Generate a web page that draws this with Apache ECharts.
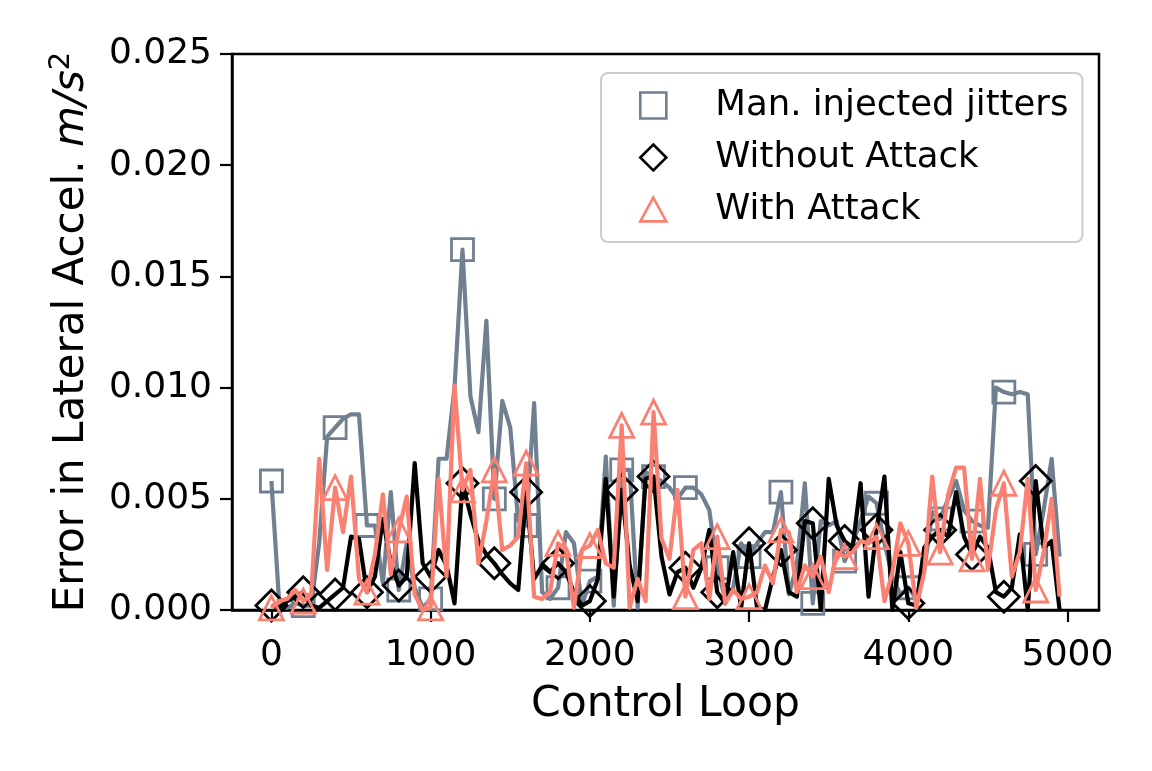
<!DOCTYPE html>
<html>
<head>
<meta charset="utf-8">
<script src="https://cdn.jsdelivr.net/npm/echarts@6/dist/echarts.min.js"></script>
<style>
html,body{margin:0;padding:0;background:#fff;}
#chart{width:1152px;height:771px;}
</style>
</head>
<body>
<div id="chart"></div>
<script>
// ---- data ----
const controlLoop = [0,50,100,150,200,250,300,350,400,450,500,550,600,650,700,750,800,850,900,950,
  1000,1050,1100,1150,1200,1250,1300,1350,1400,1450,1500,1550,1600,1650,1700,1750,1800,1850,1900,1950,
  2000,2050,2100,2150,2200,2250,2300,2350,2400,2450,2500,2550,2600,2650,2700,2750,2800,2850,2900,2950,
  3000,3050,3100,3150,3200,3250,3300,3350,3400,3450,3500,3550,3600,3650,3700,3750,3800,3850,3900,3950,
  4000,4050,4100,4150,4200,4250,4300,4350,4400,4450,4500,4550,4600,4650,4700,4750,4800,4850,4900,4950];

const manInjected = [0.0058,0.0002,0.0001,0.0003,0.0002,0.0002,0.0030,0.0078,0.0082,0.0086,
  0.0088,0.0088,0.0038,0.0038,0.0012,0.0053,0.0009,0.0030,0.0010,0.0001,
  0.0005,0.0068,0.0068,0.0100,0.0162,0.0096,0.0080,0.0130,0.0050,0.0094,
  0.0082,0.0040,0.0038,0.0093,0.0008,0.0005,0.0010,0.0035,0.0030,0.0002,
  0.0013,0.0015,0.0069,0.0002,0.0063,0.0063,0.0001,0.0062,0.0060,0.0058,
  0.0055,0.0050,0.0055,0.0055,0.0052,0.0045,0.0019,0.0005,0.0010,0.0030,
  0.0024,0.0030,0.0035,0.0035,0.0053,0.0007,0.0020,0.0057,0.0003,0.0040,
  0.0038,0.0040,0.0022,0.0030,0.0040,0.0051,0.0048,0.0030,0.0015,0.0007,
  0.0010,0.0005,0.0018,0.0044,0.0041,0.0050,0.0058,0.0045,0.0040,0.0038,
  0.0037,0.0100,0.0098,0.0097,0.0098,0.0097,0.0025,0.0045,0.0068,0.0024];

const withoutAttack = [0.0002,0.0001,0.0004,0.0006,0.0008,0.0002,0.0001,0.0004,0.0007,0.0010,
  0.0033,0.0032,0.0008,0.0015,0.0041,0.0021,0.0011,0.0015,0.0066,0.0021,
  0.0015,0.0027,0.0020,0.0003,0.0057,0.0043,0.0031,0.0025,0.0021,0.0016,
  0.0012,0.0009,0.0053,0.0014,0.0020,0.0017,0.0021,0.0017,0.0008,0.0002,
  0.0004,0.0014,0.0059,0.0006,0.0054,0.0020,0.0004,0.0059,0.0060,0.0024,
  0.0007,0.0017,0.0019,0.0010,0.0019,0.0036,0.0008,0.0003,0.0026,0.0001,
  0.0030,0.0001,0.0000,0.0015,0.0027,0.0008,0.0006,0.0040,0.0039,0.0000,
  0.0059,0.0038,0.0031,0.0028,0.0057,0.0006,0.0036,0.0060,0.0000,0.0026,
  0.0003,0.0002,0.0028,0.0033,0.0036,0.0033,0.0053,0.0033,0.0025,0.0033,
  0.0028,0.0008,0.0006,0.0010,0.0034,0.0000,0.0058,0.0028,0.0031,0.0000];

const withAttack = [0.0001,0.0004,0.0005,0.0009,0.0004,0.0007,0.0068,0.0018,0.0055,0.0035,
  0.0060,0.0014,0.0008,0.0025,0.0052,0.0016,0.0036,0.0051,0.0007,0.0000,
  0.0001,0.0059,0.0015,0.0101,0.0054,0.0063,0.0021,0.0040,0.0063,0.0027,
  0.0029,0.0033,0.0066,0.0006,0.0005,0.0008,0.0030,0.0027,0.0001,0.0027,
  0.0029,0.0036,0.0021,0.0019,0.0083,0.0001,0.0014,0.0004,0.0089,0.0032,
  0.0023,0.0054,0.0006,0.0027,0.0030,0.0005,0.0033,0.0003,0.0009,0.0005,
  0.0006,0.0008,0.0020,0.0012,0.0036,0.0035,0.0008,0.0020,0.0015,0.0024,
  0.0008,0.0026,0.0024,0.0026,0.0031,0.0030,0.0033,0.0004,0.0017,0.0039,
  0.0030,0.0001,0.0017,0.0060,0.0026,0.0052,0.0064,0.0064,0.0023,0.0059,
  0.0018,0.0045,0.0057,0.0015,0.0026,0.0059,0.0009,0.0026,0.0050,0.0006];

const xTicks = [0,1000,2000,3000,4000,5000];
const seriesNames = ['Man. injected jitters','Without Attack','With Attack'];

// ---- chart ----
const colors = ['#708090','#000000','#FA8072'];
const symbols = ['rect','diamond','triangle'];
const symSizes = [22,31,24];
const values = [manInjected, withoutAttack, withAttack];
const FONT = 'DejaVu Sans';

const chart = echarts.init(document.getElementById('chart'), null, {renderer:'canvas'});

const series = values.map((vals, i) => ({
  name: seriesNames[i],
  type: 'line',
  data: controlLoop.map((x, j) => [x, vals[j]]),
  showAllSymbol: true,
  symbol: (v, p) => (p.dataIndex % 4 === 0 ? symbols[i] : 'none'),
  symbolSize: symSizes[i],
  lineStyle: {color: colors[i], width: 4.2, join: 'round'},
  itemStyle: {color: 'rgba(0,0,0,0)', borderColor: colors[i], borderWidth: 2.8},
  z: 2 + i,
  silent: true,
  emphasis: {disabled: true},
  animation: false
}));

const legendIcons = [
  'path://M0,0H24V24H0Z',
  'path://M12,0L24,12L12,24L0,12Z',
  'path://M12,1L24,23H0Z'
];

chart.setOption({
  animation: false,
  backgroundColor: '#ffffff',
  grid: {left: 232, right: 53, top: 54, bottom: 161, show: true,
         borderColor: '#000', borderWidth: 2.5, backgroundColor: 'transparent'},
  legend: {
    orient: 'vertical',
    left: 601, top: 73,
    padding: [12, 14, 12, 38],
    itemWidth: 26, itemHeight: 26, itemGap: 11,
    backgroundColor: 'rgba(255,255,255,0.8)',
    borderColor: '#cccccc', borderWidth: 2, borderRadius: 7,
    selectedMode: false,
    textStyle: {fontFamily: FONT, fontSize: 35.5, color: '#000', lineHeight: 41, padding: [0,0,0,44]},
    data: seriesNames.map((n, i) => ({
      name: n, icon: legendIcons[i],
      itemStyle: {color: 'rgba(0,0,0,0)', borderColor: colors[i], borderWidth: 2.6}
    }))
  },
  xAxis: {
    type: 'value', min: -247.5, max: 5197.5,
    name: 'Control Loop', nameLocation: 'middle', nameGap: 73,
    nameTextStyle: {fontFamily: FONT, fontSize: 42.5, color: '#000'},
    axisLine: {show: true, onZero: false, lineStyle: {color: '#000', width: 2.5}},
    axisTick: {show: true, customValues: xTicks, length: 12, lineStyle: {color: '#000', width: 2.2}},
    axisLabel: {customValues: xTicks, margin: 28, fontFamily: FONT, fontSize: 36, color: '#000',
      formatter: v => String(Math.round(v))},
    splitLine: {show: false}
  },
  yAxis: {
    type: 'value', min: 0, max: 0.025, interval: 0.005,
    name: 'Error in Lateral Accel. {it|m/s}{sup|2}', nameLocation: 'middle', nameGap: 134,
    nameRotate: 90,
    nameTextStyle: {fontFamily: FONT, fontSize: 42, color: '#000',
      rich: {
        it: {fontFamily: FONT, fontSize: 42, fontStyle: 'italic', color: '#000'},
        sup: {fontFamily: FONT, fontSize: 29, color: '#000', padding: [0, 0, 22, 0]}
      }},
    axisLine: {show: true, onZero: false, lineStyle: {color: '#000', width: 2.5}},
    axisTick: {show: true, length: 12, lineStyle: {color: '#000', width: 2.2}},
    axisLabel: {margin: 20, fontFamily: FONT, fontSize: 36, color: '#000',
      formatter: v => v.toFixed(3)},
    splitLine: {show: false}
  },
  series: series
});
</script>
</body>
</html>
